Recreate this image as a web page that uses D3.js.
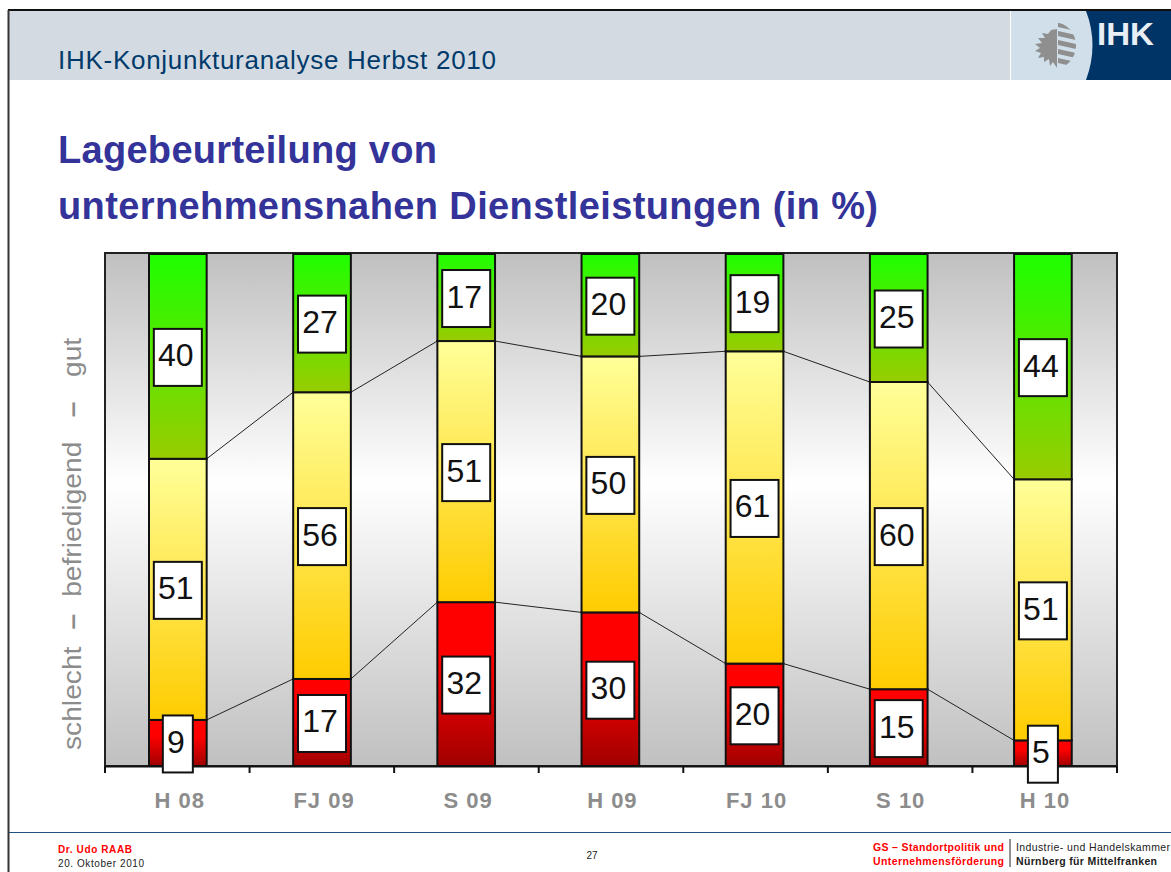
<!DOCTYPE html>
<html>
<head>
<meta charset="utf-8">
<script src="https://cdn.jsdelivr.net/npm/d3@7"></script>
<style>
html,body{margin:0;padding:0;background:#fff;}
svg{display:block;}
text{font-family:"Liberation Sans",Arial,sans-serif;}
</style>
</head>
<body>
<div id="container"></div>
<script>
/* DATA */
const periods = ["H 08","FJ 09","S 09","H 09","FJ 10","S 10","H 10"];
const schlecht = [9,17,32,30,20,15,5];
const befriedigend = [51,56,51,50,61,60,51];
const gut = [40,27,17,20,19,25,44];
const seriesNames = ["schlecht","befriedigend","gut"];

/* CONSTANTS */
const width = 1171;
const height = 872;
const plot = {left:105, right:1117, top:253, bottom:766};

const rows = periods.map((p,i) => ({period:p, schlecht:schlecht[i], befriedigend:befriedigend[i], gut:gut[i]}));
const stacked = d3.stack().keys(seriesNames)(rows);

const xScale = d3.scaleBand().domain(periods).range([105.75, 1115]).paddingInner(0.6).paddingOuter(0.3);
const xTicks = d3.scaleBand().domain(periods).range([plot.left, plot.right]);
const yScale = d3.scaleLinear().domain([0,100]).range([plot.bottom, plot.top+1]);

const svg = d3.select("#container").append("svg")
  .attr("width", width)
  .attr("height", height);

const defs = svg.append("defs");
function gradient(id, stops){
  defs.append("linearGradient")
    .attr("id", id)
    .attr("x1",0).attr("y1",0).attr("x2",0).attr("y2",1)
    .selectAll("stop").data(stops).join("stop")
    .attr("offset", d => d[0])
    .attr("stop-color", d => d[1]);
}
gradient("bg", [["0%","#c0c0c0"],["45%","#ffffff"],["100%","#c0c0c0"]]);
gradient("gut", [["0%","#1eff00"],["100%","#99cc00"]]);
gradient("befriedigend", [["0%","#ffff99"],["100%","#ffcc00"]]);
gradient("schlecht", [["0%","#ff0000"],["35%","#ff0000"],["100%","#a00000"]]);
defs.append("filter").attr("id","soft").append("feGaussianBlur").attr("stdDeviation",0.5);
defs.append("clipPath").attr("id","shield").append("ellipse")
  .attr("cx",1055).attr("cy",45.5).attr("rx",21).attr("ry",23);

// slide frame and header
svg.append("rect").attr("x",8).attr("y",10).attr("width",1163).attr("height",70).attr("fill","#d3dae2");
svg.append("rect").attr("x",1011).attr("y",11).attr("width",100).attr("height",69).attr("fill","#d0dfe9");
svg.append("path")
  .attr("d","M1086,11 Q1099,45 1086,80 L1171,80 L1171,11 Z")
  .attr("fill","#003366");
svg.append("line").attr("x1",1010.5).attr("x2",1010.5).attr("y1",11).attr("y2",80).attr("stroke","#fff");
svg.append("line").attr("x1",8).attr("x2",1171).attr("y1",10).attr("y2",10).attr("stroke","#111").attr("stroke-width",2);
svg.append("line").attr("x1",8.5).attr("x2",8.5).attr("y1",10).attr("y2",872).attr("stroke","#333").attr("stroke-width",2);

// logo, eagle left and stripes right
const logo = svg.append("g").attr("fill","#8f8f8f").attr("filter","url(#soft)");
logo.append("path").attr("d","M1057,29 L1051,30 L1048,34 L1042,33 L1045,38 L1038,38 L1042,43 L1035,44 L1040,48 L1035,51 L1041,53 L1038,58 L1044,57 L1044,62 L1049,59 L1050,66 L1053,62 L1057,68 Z");
const stripes = logo.append("g").attr("clip-path","url(#shield)");
[22,31,40,49,58].forEach(y => {
  stripes.append("path").attr("d",`M1058,${y} L1080,${y+5} L1080,${y+10} L1058,${y+5} Z`);
});
svg.append("text").attr("x",1097).attr("y",45).attr("font-size",31).attr("font-weight","bold")
  .attr("textLength",57).attr("lengthAdjust","spacingAndGlyphs").attr("fill","#e8eef4").text("IHK");

// titles
svg.append("text").attr("x",58).attr("y",69).attr("font-size",26).attr("textLength",438).attr("fill","#003a6b").text("IHK-Konjunkturanalyse Herbst 2010");
svg.append("text").attr("x",58).attr("y",163).attr("font-size",38).attr("textLength",379).attr("font-weight","bold").attr("fill","#333399").text("Lagebeurteilung von");
svg.append("text").attr("x",58).attr("y",219).attr("font-size",38).attr("textLength",820).attr("font-weight","bold").attr("fill","#333399").text("unternehmensnahen Dienstleistungen (in %)");

// plot background
svg.append("rect")
  .attr("x",plot.left).attr("y",plot.top)
  .attr("width",plot.right-plot.left).attr("height",plot.bottom-plot.top)
  .attr("fill","url(#bg)")
  .attr("stroke","#222").attr("stroke-width",2);

// y axis caption, words and dashes spaced by hand like the slide
const caption = svg.append("text")
  .attr("transform","translate(81,750) rotate(-90) scale(1.064,1)")
  .attr("font-size",26.5)
  .attr("fill","#8c8c8c");
caption.selectAll("tspan")
  .data([
    {t:"schlecht", dx:0, w:"normal"},
    {t:"\u2013", dx:16, w:"bold"},
    {t:"befriedigend", dx:16, w:"normal"},
    {t:"\u2013", dx:23, w:"bold"},
    {t:"gut", dx:23, w:"normal"}
  ])
  .join("tspan")
  .attr("dx", d => d.dx)
  .attr("font-weight", d => d.w)
  .text(d => d.t);

// connector lines between bars
const bw = xScale.bandwidth();
[0,1].forEach(s => {
  const pts = stacked[s];
  svg.append("g").selectAll("line")
    .data(d3.pairs(pts.map((d,i) => ({v:d[1], p:periods[i]}))))
    .join("line")
    .attr("x1", d => xScale(d[0].p)+bw)
    .attr("x2", d => xScale(d[1].p))
    .attr("y1", d => yScale(d[0].v))
    .attr("y2", d => yScale(d[1].v))
    .attr("stroke","#222").attr("stroke-width",1);
});

// stacked bars
svg.append("g").selectAll("g")
  .data(stacked)
  .join("g")
  .attr("fill", d => `url(#${d.key})`)
  .selectAll("rect")
  .data(d => d)
  .join("rect")
  .attr("x", d => xScale(d.data.period))
  .attr("width", bw)
  .attr("y", d => yScale(d[1]))
  .attr("height", d => yScale(d[0])-yScale(d[1]))
  .attr("stroke","#111").attr("stroke-width",2);

// x axis
const xAxis = d3.axisBottom(xTicks).tickSize(0).tickFormat("");
svg.append("g")
  .attr("transform",`translate(0,${plot.bottom})`)
  .call(xAxis)
  .call(g => g.select(".domain").attr("stroke","#111").attr("stroke-width",2));
svg.append("g").selectAll("line")
  .data(periods.concat("end"))
  .join("line")
  .attr("x1", d => d === "end" ? plot.right : xTicks(d))
  .attr("x2", d => d === "end" ? plot.right : xTicks(d))
  .attr("y1",plot.bottom).attr("y2",plot.bottom+7)
  .attr("stroke","#111").attr("stroke-width",2);

svg.append("g").selectAll("text")
  .data(periods)
  .join("text")
  .attr("x", d => xScale(d)+bw/2+2)
  .attr("y",plot.bottom+42)
  .attr("text-anchor","middle")
  .attr("font-size",22)
  .attr("font-weight","bold")
  .attr("letter-spacing",1)
  .attr("fill","#8c8c8c")
  .text(d => d);

// value boxes
const boxes = svg.append("g").selectAll("g")
  .data(stacked.flatMap(s => s.map(d => ({v:d[1]-d[0], mid:(d[0]+d[1])/2, p:d.data.period}))))
  .join("g")
  .attr("transform", d => `translate(${xScale(d.p)+bw/2},${yScale(d.mid)+1})`);
boxes.append("rect")
  .attr("x", d => d.v < 10 ? -15 : -24)
  .attr("width", d => d.v < 10 ? 30 : 48)
  .attr("y",-28.5).attr("height",57)
  .attr("fill","#fff").attr("stroke","#111").attr("stroke-width",2);
boxes.append("text")
  .attr("text-anchor","middle")
  .attr("x",-2)
  .attr("y",9)
  .attr("font-size",32)
  .attr("fill","#111")
  .text(d => d.v);

// footer
svg.append("line").attr("x1",9).attr("x2",1171).attr("y1",832.5).attr("y2",832.5).attr("stroke","#1f5080").attr("stroke-width",1.2);
svg.append("text").attr("x",58).attr("y",853).attr("font-size",10).attr("textLength",74).attr("font-weight","bold").attr("fill","#ff0000").text("Dr. Udo RAAB");
svg.append("text").attr("x",58).attr("y",867).attr("font-size",10).attr("textLength",86).attr("fill","#222").text("20. Oktober 2010");
svg.append("text").attr("x",592).attr("y",859).attr("text-anchor","middle").attr("font-size",10).attr("fill","#222").text("27");
svg.append("text").attr("x",873).attr("y",851).attr("textLength",131).attr("font-size",10.5).attr("font-weight","bold").attr("fill","#ff0000").text("GS \u2013 Standortpolitik und");
svg.append("text").attr("x",873).attr("y",865).attr("textLength",131).attr("font-size",10.5).attr("font-weight","bold").attr("fill","#ff0000").text("Unternehmensförderung");
svg.append("line").attr("x1",1010).attr("x2",1010).attr("y1",839).attr("y2",867).attr("stroke","#222");
svg.append("text").attr("x",1016).attr("y",851).attr("textLength",154).attr("font-size",10.5).attr("fill","#222").text("Industrie- und Handelskammer");
svg.append("text").attr("x",1016).attr("y",865).attr("textLength",141).attr("font-size",10.5).attr("font-weight","bold").attr("fill","#222").text("Nürnberg für Mittelfranken");
</script>
</body>
</html>
